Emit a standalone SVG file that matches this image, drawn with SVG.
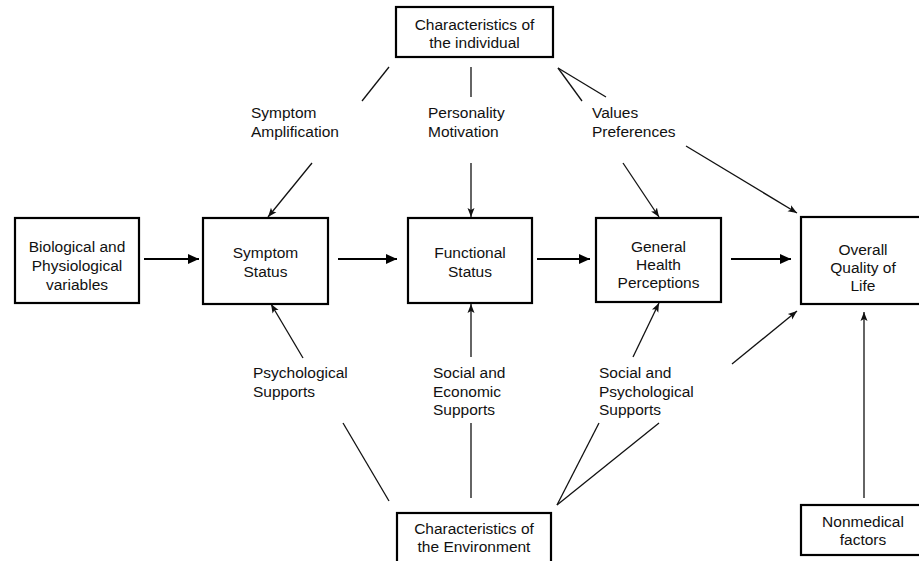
<svg xmlns="http://www.w3.org/2000/svg" width="919" height="561" viewBox="0 0 919 561">
<style>
.box{fill:#fff;stroke:#000;stroke-width:2.2}
text{font-family:"Liberation Sans",Arial,sans-serif;font-size:15.5px;fill:#111}
.c{text-anchor:middle}
.thin{stroke:#111;stroke-width:1.3;fill:none}
.thick{stroke:#000;stroke-width:2;fill:none}
</style>
<defs>
<marker id="a" markerUnits="userSpaceOnUse" markerWidth="10" markerHeight="10" viewBox="0 0 10 10" refX="9" refY="5" orient="auto">
<path d="M0,1.5 L9,5 L0,8.5 L2,5 Z" fill="#111"/>
</marker>
<marker id="A" markerUnits="userSpaceOnUse" markerWidth="12" markerHeight="12" viewBox="0 0 12 12" refX="11" refY="6" orient="auto">
<path d="M0,1 L11,6 L0,11 Z" fill="#000"/>
</marker>
</defs>
<rect width="919" height="561" fill="#fff"/>
<g id="connectors">
<line class="thick" x1="144" y1="259" x2="199" y2="259" marker-end="url(#A)"/>
<line class="thick" x1="338" y1="259" x2="397" y2="259" marker-end="url(#A)"/>
<line class="thick" x1="537" y1="259" x2="590" y2="259" marker-end="url(#A)"/>
<line class="thick" x1="731" y1="259" x2="791" y2="259" marker-end="url(#A)"/>
<line class="thin" x1="389" y1="67" x2="362" y2="101"/>
<line class="thin" x1="312" y1="163" x2="268" y2="217" marker-end="url(#a)"/>
<line class="thin" x1="471" y1="67" x2="471" y2="97"/>
<line class="thin" x1="471" y1="163" x2="471" y2="217" marker-end="url(#a)"/>
<line class="thin" x1="558" y1="68" x2="582" y2="101"/>
<line class="thin" x1="558" y1="68" x2="606" y2="97"/>
<line class="thin" x1="623" y1="163" x2="659" y2="217" marker-end="url(#a)"/>
<line class="thin" x1="686" y1="146" x2="797" y2="213" marker-end="url(#a)"/>
<line class="thin" x1="303" y1="358" x2="271" y2="304" marker-end="url(#a)"/>
<line class="thin" x1="343" y1="423" x2="389" y2="501"/>
<line class="thin" x1="471" y1="357" x2="471" y2="304" marker-end="url(#a)"/>
<line class="thin" x1="471" y1="423" x2="471" y2="498"/>
<line class="thin" x1="633" y1="357" x2="659" y2="303" marker-end="url(#a)"/>
<line class="thin" x1="557" y1="505" x2="599" y2="423"/>
<line class="thin" x1="557" y1="505" x2="659" y2="423"/>
<line class="thin" x1="732" y1="364" x2="797" y2="311" marker-end="url(#a)"/>
<line class="thin" x1="864" y1="498" x2="864" y2="312" marker-end="url(#a)"/>
</g>
<g id="labels">
<text x="251" y="118">Symptom</text>
<text x="251" y="137">Amplification</text>
<text x="428" y="118">Personality</text>
<text x="428" y="137">Motivation</text>
<text x="592" y="118">Values</text>
<text x="592" y="137">Preferences</text>
<text x="253" y="378">Psychological</text>
<text x="253" y="397">Supports</text>
<text x="433" y="378">Social and</text>
<text x="433" y="397">Economic</text>
<text x="433" y="415">Supports</text>
<text x="599" y="378">Social and</text>
<text x="599" y="397">Psychological</text>
<text x="599" y="415">Supports</text>
</g>
<g id="individual">
<rect class="box" x="396" y="7" width="157" height="50"/>
<text class="c" x="474.5" y="30">Characteristics of</text>
<text class="c" x="474.5" y="48">the individual</text>
</g>
<g id="biological">
<rect class="box" x="15" y="218" width="124" height="85"/>
<text class="c" x="77" y="252">Biological and</text>
<text class="c" x="77" y="271">Physiological</text>
<text class="c" x="77" y="290">variables</text>
</g>
<g id="symptom">
<rect class="box" x="203" y="218" width="125" height="86"/>
<text class="c" x="265.5" y="258">Symptom</text>
<text class="c" x="265.5" y="277">Status</text>
</g>
<g id="functional">
<rect class="box" x="408" y="218" width="124" height="85"/>
<text class="c" x="470" y="258">Functional</text>
<text class="c" x="470" y="277">Status</text>
</g>
<g id="general">
<rect class="box" x="596" y="218" width="125" height="84"/>
<text class="c" x="658.5" y="252">General</text>
<text class="c" x="658.5" y="270">Health</text>
<text class="c" x="658.5" y="288">Perceptions</text>
</g>
<g id="overall">
<rect class="box" x="801" y="217" width="126" height="87"/>
<text class="c" x="863" y="255">Overall</text>
<text class="c" x="863" y="273">Quality of</text>
<text class="c" x="863" y="291">Life</text>
</g>
<g id="environment">
<rect class="box" x="397" y="513" width="154" height="55"/>
<text class="c" x="474" y="534">Characteristics of</text>
<text class="c" x="474" y="552">the Environment</text>
</g>
<g id="nonmedical">
<rect class="box" x="801" y="505" width="126" height="50"/>
<text class="c" x="863" y="527">Nonmedical</text>
<text class="c" x="863" y="545">factors</text>
</g>
</svg>
